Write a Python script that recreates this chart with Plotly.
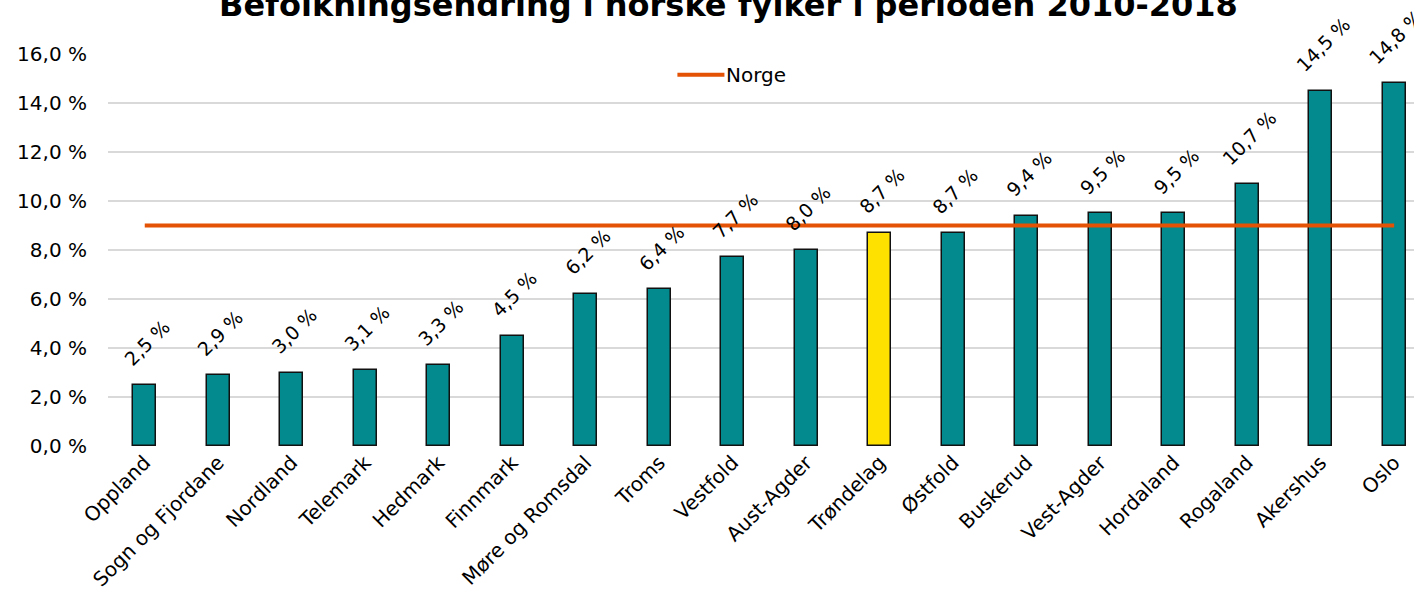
import plotly.graph_objects as go

categories = ["Oppland", "Sogn og Fjordane", "Nordland", "Telemark", "Hedmark", "Finnmark",
              "Møre og Romsdal", "Troms", "Vestfold", "Aust-Agder", "Trøndelag", "Østfold",
              "Buskerud", "Vest-Agder", "Hordaland", "Rogaland", "Akershus", "Oslo"]
values = [2.5, 2.9, 3.0, 3.1, 3.3, 4.5, 6.2, 6.4, 7.7, 8.0, 8.7, 8.7, 9.4, 9.5, 9.5, 10.7, 14.5, 14.8]
norge_value = 9.0
highlight = "Trøndelag"
tick_vals = [0, 2, 4, 6, 8, 10, 12, 14, 16]
tick_text = ["0,0 %", "2,0 %", "4,0 %", "6,0 %", "8,0 %", "10,0 %", "12,0 %", "14,0 %", "16,0 %"]
title = "Befolkningsendring i norske fylker i perioden 2010-2018"
legend_label = "Norge"

FONT = "Verdana, DejaVu Sans, sans-serif"
TEAL = "#038A8F"
YELLOW = "#FFE100"
ORANGE = "#E35205"

colors = [YELLOW if c == highlight else TEAL for c in categories]

fig = go.Figure()
fig.add_trace(go.Bar(
    x=categories, y=values, width=0.31,
    marker=dict(color=colors, line=dict(color="#111111", width=1.5)),
    showlegend=False, hoverinfo="skip",
))
fig.add_trace(go.Scatter(
    x=categories, y=[norge_value] * len(categories), mode="lines", name=legend_label,
    line=dict(color=ORANGE, width=4), showlegend=False, hoverinfo="skip",
))

for c, v in zip(categories, values):
    fig.add_annotation(
        x=c, y=v, xref="x", yref="y",
        text=f"{v:.1f} %".replace(".", ","),
        textangle=-45, showarrow=False,
        xanchor="center", yanchor="bottom", xshift=2, yshift=12,
        font=dict(family=FONT, size=19, color="#000000"),
    )

# custom legend entry (long line sample as in the reference)
fig.add_shape(type="line", xref="paper", yref="paper",
              x0=0.436, x1=0.472, y0=0.947, y1=0.947,
              line=dict(color=ORANGE, width=4))
fig.add_annotation(x=0.472, y=0.947, xref="paper", yref="paper",
                   text=legend_label, showarrow=False, xanchor="left", yanchor="middle",
                   font=dict(family=FONT, size=20, color="#000000"))

fig.add_annotation(
    x=(728 - 108) / 1306, y=1.071, xref="paper", yref="paper",
    text=f"<b>{title}</b>", showarrow=False,
    xanchor="center", yanchor="bottom",
    font=dict(family=FONT, size=32, color="#000000"),
)

fig.update_layout(
    width=1414, height=598,
    margin=dict(l=108, r=0, t=54, b=152),
    plot_bgcolor="white", paper_bgcolor="white",
    font=dict(family=FONT, size=20, color="#000000"),
    bargap=0,
    showlegend=False,
    xaxis=dict(range=[-0.5, 17.27], tickangle=-45, showgrid=False, zeroline=False,
               showline=False, ticks="", ticklabelstandoff=0,
               tickfont=dict(family=FONT, size=20)),
    yaxis=dict(range=[0, 16], tickvals=tick_vals, ticktext=tick_text,
               showgrid=True, gridcolor="#D9D9D9", gridwidth=1.5,
               zeroline=False, showline=False, ticks="",
               ticklabelstandoff=20, tickfont=dict(family=FONT, size=20)),
)

fig.write_html("out.html", config={"displayModeBar": False},
               post_script="document.body.style.margin='0px';document.body.style.overflow='hidden';")
